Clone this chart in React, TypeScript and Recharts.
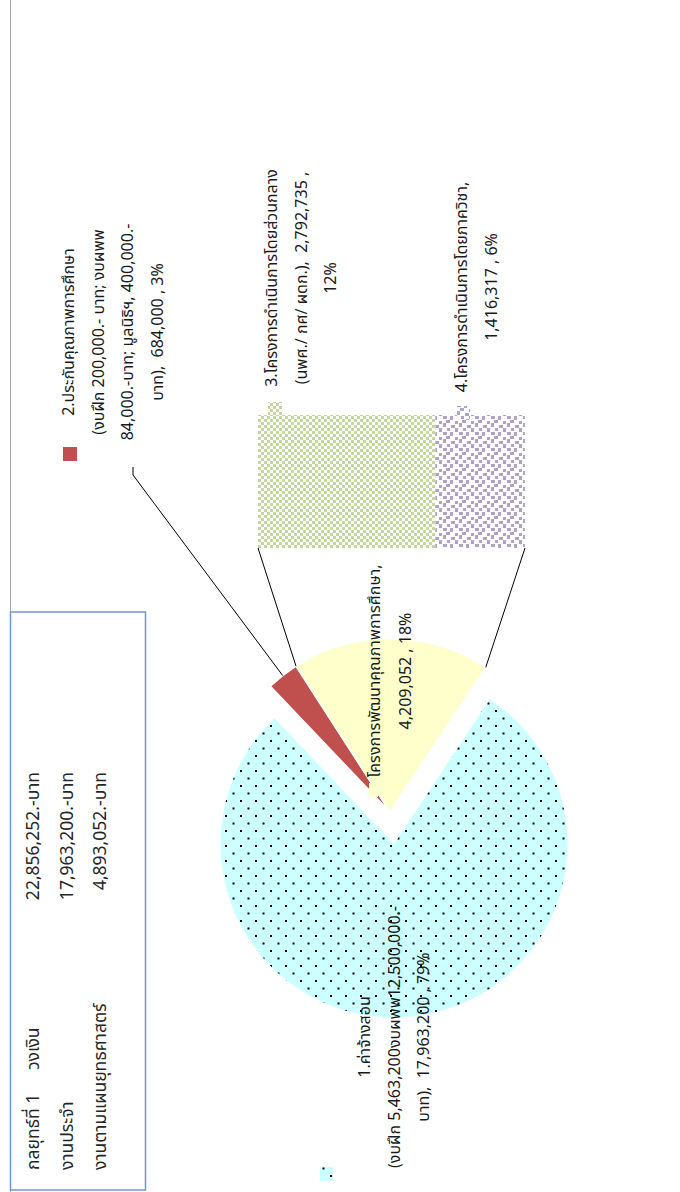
import React from "react";
import { PieChart, Pie, Cell, BarChart, Bar, XAxis, YAxis } from "recharts";

// main pie: two slices + "other" that is split into the bar
const pieNames = ["1.ค่าจ้างสอน", "2.ประกันคุณภาพการศึกษา", "โครงการพัฒนาคุณภาพการศึกษา"];
const pieValues = [17963200, 684000, 4209052];
const barNames = ["3.โครงการดำเนินการโดยส่วนกลาง", "4.โครงการดำเนินการโดยภาควิชา"];
const barValues = [2792735, 1416317];

const tableLabels = ["กลยุทธ์ที่ 1", "งานประจำ", "งานตามแผนยุทธศาสตร์"];
const tableAmounts = ["22,856,252.-บาท", "17,963,200.-บาท", "4,893,052.-บาท"];
const tableHeader = "วงเงิน";

const label1Extra = ["(งบฝึก 5,463,200งบผพพ12,500,000.-"];
const label2Extra = ["(งบฝึก 200,000.- บาท; งบผพพ", "84,000.-บาท; มูลนิธิฯ, 400,000.-"];
const label3Extra = "(นพศ./ กศ/ ผดก.),";

const W = 1192;
const H = 680;
const CX = 348;
const CY = 394;
const R = 173.5;
const EX = 32; // explode offset of the cut-out slices
const EY = -4;
const START = 326.5;
const END = -33.5;
const BAR = { x: 644, y: 258, w: 133, h: 267 };

const FONT = "Tahoma, 'Noto Sans Thai', 'Noto Sans', sans-serif";

const total = pieValues.reduce((a, b) => a + b, 0);
const fmt = (v: number) => v.toLocaleString("en-US");
const pct = (v: number) => Math.round((v / total) * 100);

const pieData = pieNames.map((name, i) => ({ name, value: pieValues[i] }));
const barRow = { name: "other", a: barValues[1], b: barValues[0] };

const pieFills = ["url(#dots)", "#c0504d", "#ffffcc"];
const barFills = ["url(#checker)", "url(#confetti)"];

function pt(cx: number, cy: number, r: number, deg: number) {
  const a = (deg * Math.PI) / 180;
  return [cx + r * Math.cos(a), cy - r * Math.sin(a)];
}

function Lines({ x, y, lines, gap = 29.5 }: { x: number; y: number; lines: string[]; gap?: number }) {
  return (
    <g>
      {lines.map((l, i) => (
        <text key={i} x={x} y={y + i * gap} textAnchor="middle" fontSize={16} fill="#1a1a1a" fontFamily={FONT} style={{ whiteSpace: "pre" }}>
          {l}
        </text>
      ))}
    </g>
  );
}

export default function App() {
  const otherSweep = (pieValues[2] / total) * 360;
  const redSweep = (pieValues[1] / total) * 360;
  const otherStart = END + otherSweep;
  const redMid = otherStart + redSweep / 2;
  const bx = CX + EX;
  const by = CY + EY;
  const redOut = pt(bx, by, R, redMid);
  const cTop = pt(bx, by, R, otherStart);
  const cBot = pt(bx, by, R, END);

  return (
    <div style={{ position: "absolute", left: 0, top: 0, width: 680, height: 1192, overflow: "hidden", background: "#fff" }}>
      <svg width={0} height={0} style={{ position: "absolute" }}>
        <defs>
          <pattern id="dots" patternUnits="userSpaceOnUse" width={15} height={15}>
            <rect width={15} height={15} fill="#ccffff" />
            <rect x={0} y={0} width={2} height={2} fill="#000" />
            <rect x={7.5} y={7.5} width={2} height={2} fill="#000" />
          </pattern>
          <pattern id="checker" patternUnits="userSpaceOnUse" width={6} height={6}>
            <rect width={6} height={6} fill="#fff" />
            <rect x={0} y={0} width={3} height={3} fill="#c3d69b" />
            <rect x={3} y={3} width={3} height={3} fill="#c3d69b" />
          </pattern>
          <pattern id="confetti" patternUnits="userSpaceOnUse" width={16} height={16}>
            <rect width={16} height={16} fill="#fff" />
            <rect x={0} y={0} width={4} height={3} fill="#b3a2c7" />
            <rect x={8} y={1} width={3} height={4} fill="#b3a2c7" />
            <rect x={4} y={5} width={4} height={3} fill="#b3a2c7" />
            <rect x={12} y={5} width={3} height={3} fill="#b3a2c7" />
            <rect x={1} y={9} width={3} height={4} fill="#b3a2c7" />
            <rect x={9} y={9} width={4} height={3} fill="#b3a2c7" />
            <rect x={5} y={13} width={3} height={3} fill="#b3a2c7" />
            <rect x={13} y={12} width={3} height={4} fill="#b3a2c7" />
          </pattern>
        </defs>
      </svg>
      <div
        style={{
          position: "absolute",
          left: 0,
          top: 0,
          width: W,
          height: H,
          transformOrigin: "0 0",
          transform: `translateY(${W}px) rotate(-90deg)`,
        }}
      >
        <div style={{ position: "absolute", left: 0, top: 0 }}>
          <PieChart width={W} height={H} margin={{ top: 0, right: 0, bottom: 0, left: 0 }}>
            <Pie data={pieData} dataKey="value" cx={CX} cy={CY} outerRadius={R} startAngle={START} endAngle={END} stroke="none" isAnimationActive={false}>
              {pieData.map((d, i) => (
                <Cell key={d.name} fill={i === 0 ? pieFills[0] : "none"} stroke="none" />
              ))}
            </Pie>
            <Pie data={pieData} dataKey="value" cx={bx} cy={by} outerRadius={R} startAngle={START} endAngle={END} isAnimationActive={false}>
              {pieData.map((d, i) => (
                <Cell key={d.name} fill={i === 0 ? "none" : pieFills[i]} stroke={i === 0 ? "none" : "#fff"} strokeWidth={1.5} />
              ))}
            </Pie>
          </PieChart>
        </div>
        <div style={{ position: "absolute", left: BAR.x, top: BAR.y }}>
          <BarChart width={BAR.w} height={BAR.h} data={[barRow]} margin={{ top: 0, right: 0, bottom: 0, left: 0 }} barCategoryGap={0}>
            <XAxis dataKey="name" hide />
            <YAxis hide domain={[0, pieValues[2]]} />
            <Bar dataKey="a" stackId="s" fill={barFills[1]} isAnimationActive={false} />
            <Bar dataKey="b" stackId="s" fill={barFills[0]} isAnimationActive={false} />
          </BarChart>
        </div>
        <svg width={W} height={H} style={{ position: "absolute", left: 0, top: 0 }}>
          <line x1={0} y1={10.5} x2={W} y2={10.5} stroke="#a6a6a6" strokeWidth={1} />
          <rect x={2} y={10.5} width={578} height={135} fill="#fff" stroke="#6f97cf" strokeWidth={1.5} />
          {tableLabels.map((t, i) => (
            <g key={t} fontFamily={FONT} fontSize={17.5} fill="#262626">
              <text x={22} y={39 + i * 33.5}>{t}</text>
              {i === 0 && <text x={122} y={39}>{tableHeader}</text>}
              <text x={420} y={39 + i * 33.5} textAnchor="end">{tableAmounts[i]}</text>
            </g>
          ))}

          <polyline points={`${redOut[0]},${redOut[1]} 717,133 725,133`} fill="none" stroke="#000" strokeWidth={1} />
          <line x1={cTop[0]} y1={cTop[1]} x2={BAR.x} y2={BAR.y} stroke="#000" strokeWidth={1} />
          <line x1={cBot[0]} y1={cBot[1]} x2={BAR.x} y2={BAR.y + BAR.h} stroke="#000" strokeWidth={1} />

          <rect x={11} y={320} width={14} height={13} fill={pieFills[0]} />
          <Lines x={155} y={370} lines={[pieNames[0], ...label1Extra, `บาท),  ${fmt(pieValues[0])} , ${pct(pieValues[0])}%`]} />

          <rect x={731} y={63} width={14} height={14} fill={pieFills[1]} />
          <Lines x={860} y={74} lines={[pieNames[1], ...label2Extra, `บาท),  ${fmt(pieValues[1])} , ${pct(pieValues[1])}%`]} />

          <rect x={395} y={369} width={14} height={9} fill={pieFills[2]} />
          <Lines x={521} y={380} gap={31} lines={[pieNames[2] + ",", `${fmt(pieValues[2])} , ${pct(pieValues[2])}%`]} />

          <rect x={777} y={268} width={13} height={14} fill={barFills[0]} />
          <Lines x={914} y={277} lines={[barNames[0], `${label3Extra}  ${fmt(barValues[0])} ,`, `${pct(barValues[0])}%`]} />

          <rect x={773} y={457} width={13} height={13} fill={barFills[1]} />
          <Lines x={905} y={467} gap={30} lines={[barNames[1] + ",", `${fmt(barValues[1])} , ${pct(barValues[1])}%`]} />
        </svg>
      </div>
    </div>
  );
}
